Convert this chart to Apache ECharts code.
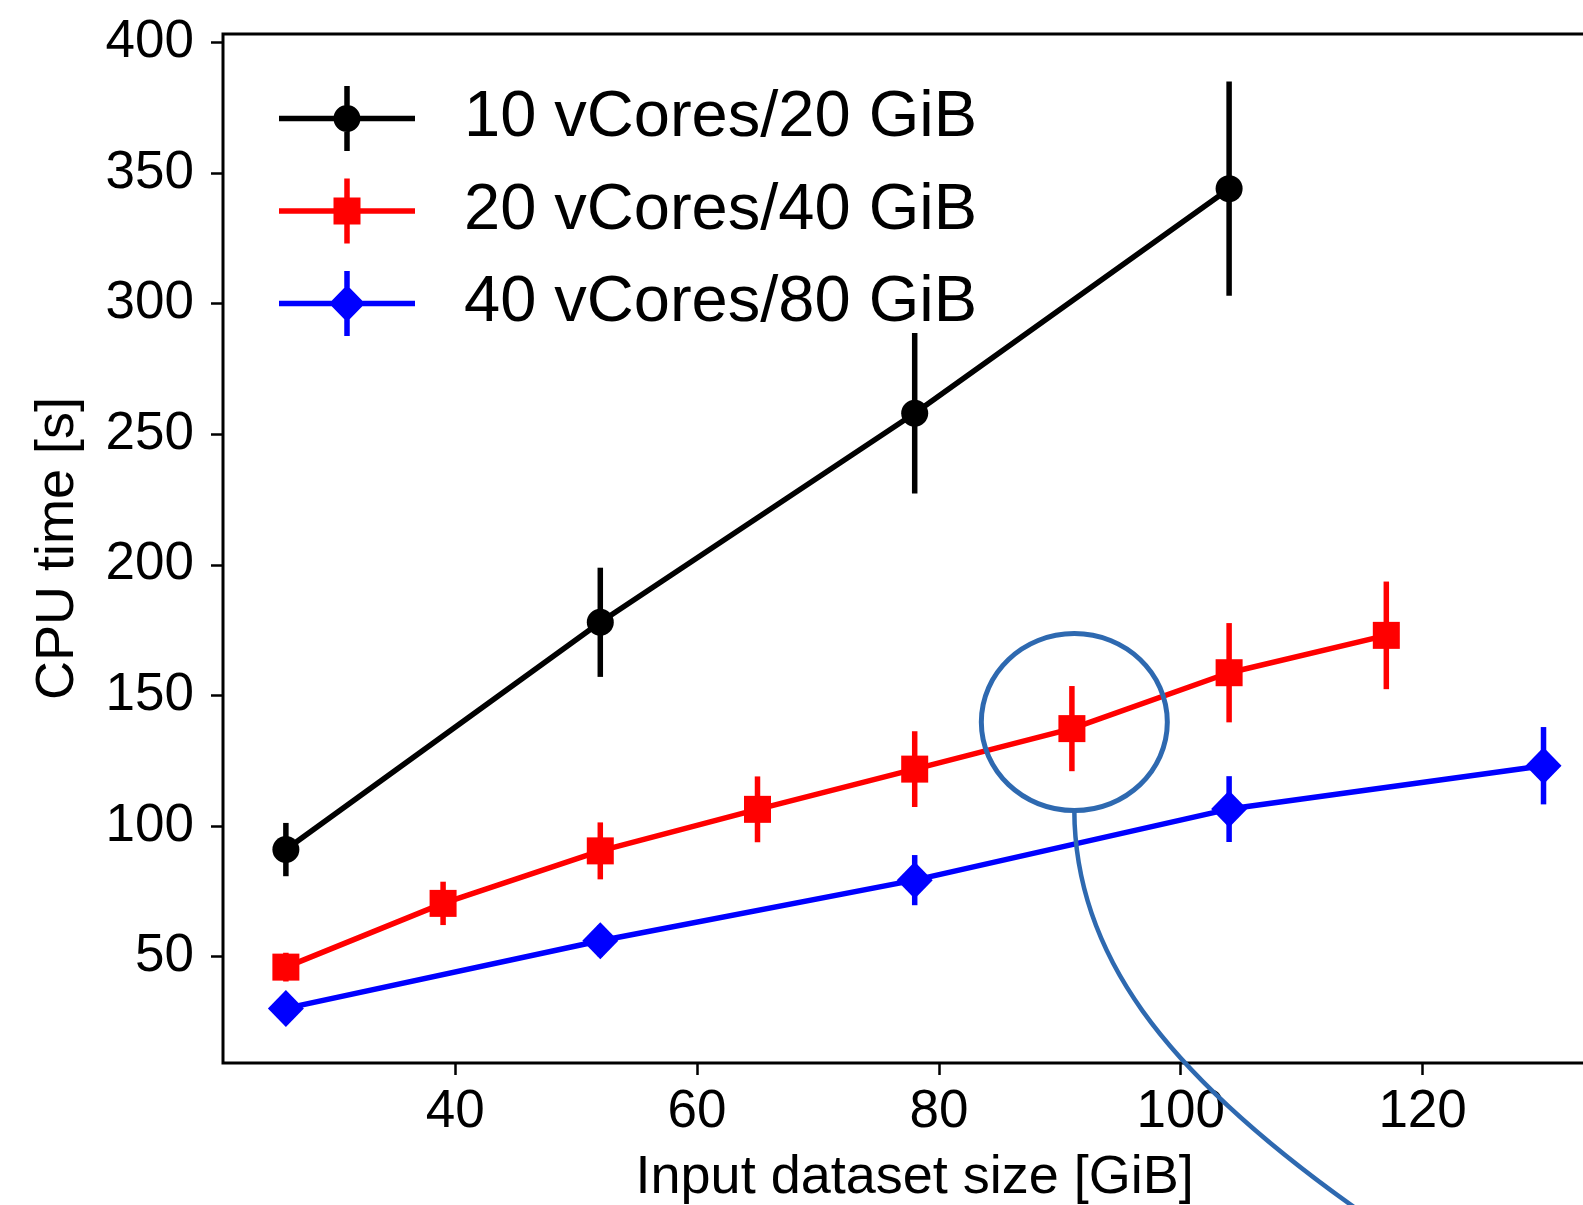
<!DOCTYPE html>
<html><head><meta charset="utf-8">
<script src="https://cdn.jsdelivr.net/npm/echarts@6.0.0/dist/echarts.min.js"></script>
<style>html,body{margin:0;padding:0;background:#fff;} #c{width:1583px;height:1205px;}</style>
</head><body><div id="c"></div>
<script>
// ---- data ----
const seriesNames = ['10 vCores/20 GiB', '20 vCores/40 GiB', '40 vCores/80 GiB'];
const seriesColors = ['#000000', '#ff0000', '#0000ff'];
const xBlack = [26, 52, 78, 104];
const yBlack = [91, 178, 258, 344];
const eBlack = [10.2, 20.9, 30.7, 41];
const xRed = [26, 39, 52, 65, 78, 91, 104, 117];
const yRed = [46, 70.4, 90.5, 106.4, 121.8, 137.3, 158.7, 173];
const eRed = [5.5, 8.3, 10.9, 12.6, 14.5, 16.3, 19, 20.6];
const xBlue = [26, 52, 78, 104, 130];
const yBlue = [30.2, 56.1, 79.3, 106.5, 123.1];
const eBlue = [4, 6, 9.6, 12.6, 14.8];
const xTicks = [40, 60, 80, 100, 120];
const yTicks = [50, 100, 150, 200, 250, 300, 350, 400];
const xName = 'Input dataset size [GiB]';
const yName = 'CPU time [s]';

const FONT = "'Liberation Sans', Arial, Helvetica, sans-serif";

// legend icons: horizontal line + vertical error bar + marker (box 136 x 65)
const hbar = 'M0 29.75H136V35.25H0Z';
const vbar = 'M65.25 0H70.75V65H65.25Z';
const circ = 'M81.5 32.5C81.5 39.96 75.46 46 68 46C60.54 46 54.5 39.96 54.5 32.5C54.5 25.04 60.54 19 68 19C75.46 19 81.5 25.04 81.5 32.5Z';
const sq = 'M54.5 19H81.5V46H54.5Z';
const dia = 'M68 14L86 32.5L68 51L50 32.5Z';
const icons = ['path://' + hbar + vbar + circ, 'path://' + hbar + vbar + sq, 'path://' + hbar + vbar + dia];

const groups = [
  {x: xBlack, y: yBlack, e: eBlack, symbol: 'circle', size: 27},
  {x: xRed, y: yRed, e: eRed, symbol: 'rect', size: 27},
  {x: xBlue, y: yBlue, e: eBlue, symbol: 'diamond', size: [36, 37]}
];

const series = [];
groups.forEach((g, i) => {
  const col = seriesColors[i];
  series.push({
    type: 'custom',
    name: 'err' + i,
    silent: true,
    z: 2,
    data: g.x.map((xv, k) => [xv, g.y[k] - g.e[k], g.y[k] + g.e[k]]),
    encode: {x: 0, y: [1, 2]},
    renderItem: (params, api) => {
      const p1 = api.coord([api.value(0), api.value(1)]);
      const p2 = api.coord([api.value(0), api.value(2)]);
      return {type: 'line', shape: {x1: p1[0], y1: p1[1], x2: p2[0], y2: p2[1]},
              style: {stroke: col, lineWidth: 5.5}};
    }
  });
  series.push({
    type: 'line',
    name: seriesNames[i],
    z: 3,
    silent: true,
    data: g.x.map((xv, k) => [xv, g.y[k]]),
    symbol: g.symbol,
    symbolSize: g.size,
    showSymbol: true,
    lineStyle: {color: col, width: 5.5},
    itemStyle: {color: col, borderWidth: 0},
    emphasis: {disabled: true}
  });
});

const chart = echarts.init(document.getElementById('c'), null, {renderer: 'canvas'});
chart.setOption({
  animation: false,
  backgroundColor: '#ffffff',
  textStyle: {fontFamily: FONT},
  grid: {left: 223, top: 34, right: -23.4, bottom: 142, show: true, borderColor: '#000', borderWidth: 3,
         backgroundColor: 'transparent', containLabel: false, outerBoundsMode: 'none'},
  legend: {
    orient: 'vertical', left: 279, top: 86, padding: 0,
    itemWidth: 136, itemHeight: 65, itemGap: 27.5,
    selectedMode: false,
    itemStyle: {borderWidth: 0},
    textStyle: {fontSize: 65, color: '#000', fontFamily: FONT, padding: [0, 0, 0, 44]},
    data: seriesNames.map((n, i) => ({name: n, icon: icons[i]}))
  },
  xAxis: {
    type: 'value', min: 20.8, max: 135.2,
    name: xName, nameLocation: 'middle', nameGap: 88, nameMoveOverlap: false,
    nameTextStyle: {fontSize: 54, color: '#000', fontFamily: FONT},
    axisLine: {show: false},
    axisTick: {show: true, inside: false, length: 12, customValues: xTicks, lineStyle: {color: '#000', width: 2.5}},
    axisLabel: {show: true, customValues: xTicks, fontSize: 53, color: '#000', margin: 23, fontFamily: FONT},
    splitLine: {show: false}
  },
  yAxis: {
    type: 'value', min: 9.3, max: 403.2,
    name: yName, nameLocation: 'middle', nameGap: 138, nameMoveOverlap: false,
    nameTextStyle: {fontSize: 54, color: '#000', fontFamily: FONT},
    axisLine: {show: false},
    axisTick: {show: true, inside: false, length: 12, customValues: yTicks, lineStyle: {color: '#000', width: 2.5}},
    axisLabel: {show: true, customValues: yTicks, fontSize: 53, color: '#000', margin: 29, fontFamily: FONT},
    splitLine: {show: false}
  },
  series: series
});

// annotation: ellipse around a point and a curved pointer
const anchor = chart.convertToPixel({xAxisIndex: 0, yAxisIndex: 0}, [91.2, 139.8]);
const rx = 93, ry = 88.5;
const bx = anchor[0], by = anchor[1] + ry;
const annColor = '#2e69b0';
chart.setOption({
  graphic: [
    {type: 'ellipse', z: 100, silent: true, shape: {cx: anchor[0], cy: anchor[1], rx: rx, ry: ry},
     style: {fill: 'none', stroke: annColor, lineWidth: 5}},
    {type: 'bezierCurve', z: 100, silent: true,
     shape: {x1: bx, y1: by, cpx1: bx + 0.5, cpy1: by + 140, cpx2: bx + 85.5, cpy2: by + 260, x2: bx + 287.5, y2: by + 402},
     style: {fill: 'none', stroke: annColor, lineWidth: 4.5}}
  ]
});
</script>
</body></html>
